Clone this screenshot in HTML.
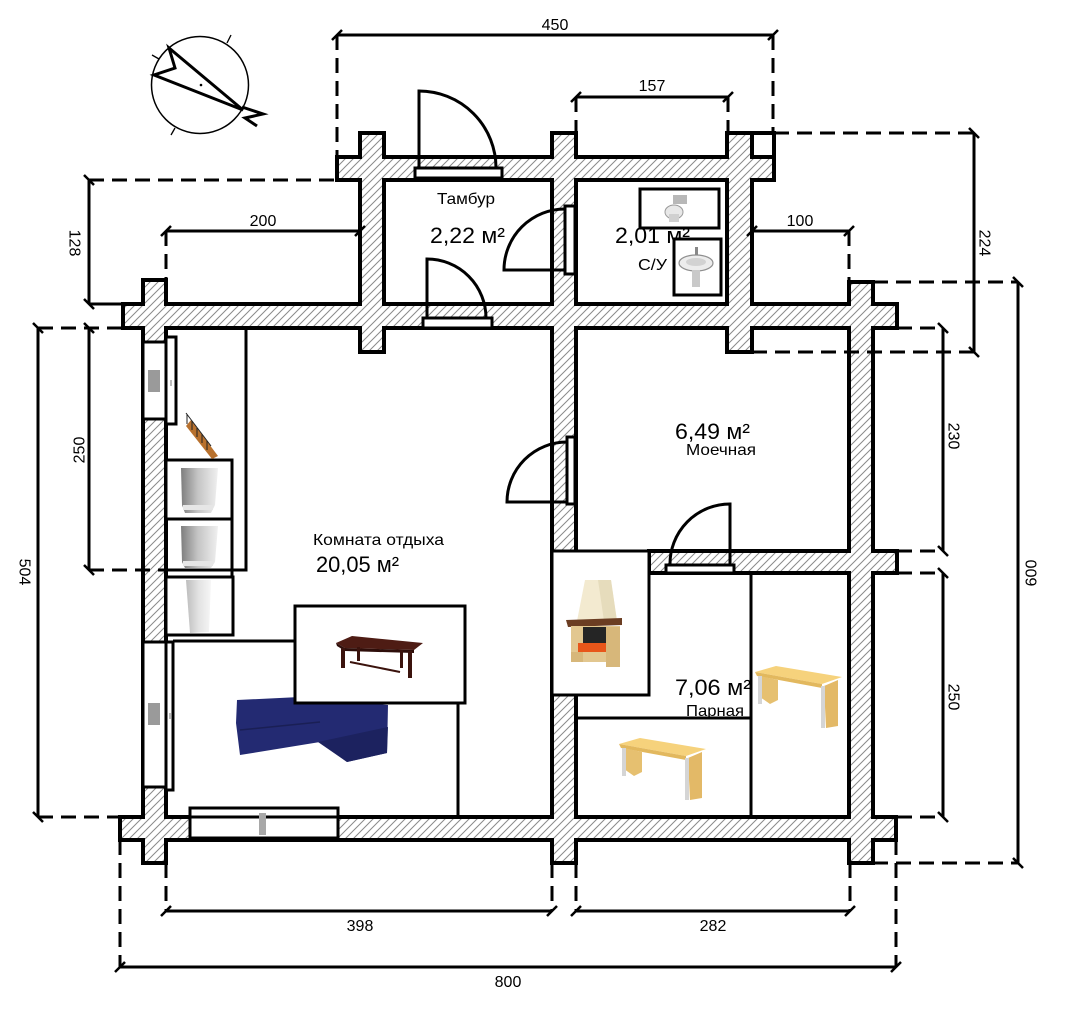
<!DOCTYPE html>
<html><head><meta charset="utf-8"><style>html,body{margin:0;padding:0;background:#fff;}svg{display:block}</style></head>
<body>
<svg xmlns="http://www.w3.org/2000/svg" width="1071" height="1013" viewBox="0 0 1071 1013" font-family="'Liberation Sans', Arial, 'Noto Sans CJK SC', sans-serif">
<defs>
<pattern id="h" patternUnits="userSpaceOnUse" width="8" height="8">
<rect width="8" height="8" fill="#fff"/>
<path d="M-2,2 L2,-2 M0,8 L8,0 M6,10 L10,6" stroke="#8a8a8a" stroke-width="1"/>
</pattern>
<linearGradient id="ap" x1="0" y1="0" x2="1" y2="0"><stop offset="0" stop-color="#7d7d7d"/><stop offset="0.45" stop-color="#c4c4c4"/><stop offset="1" stop-color="#f0f0f0"/></linearGradient>
<linearGradient id="ap2" x1="0" y1="0" x2="1" y2="0"><stop offset="0" stop-color="#bdbdbd"/><stop offset="0.5" stop-color="#e2e2e2"/><stop offset="1" stop-color="#f6f6f6"/></linearGradient>
</defs>
<rect width="1071" height="1013" fill="#fff"/>

<!-- walls: stroke layer -->
<g fill="none" stroke="#000" stroke-width="4">
<rect x="337" y="157" width="437" height="23"/>
<rect x="360" y="133" width="24" height="219"/>
<rect x="552" y="133" width="24" height="730"/>
<rect x="727" y="133" width="25" height="219"/>
<rect x="123" y="304" width="774" height="24"/>
<rect x="143" y="280" width="23" height="583"/>
<rect x="849" y="282" width="24" height="581"/>
<rect x="649" y="551" width="248" height="22"/>
<rect x="120" y="817" width="776" height="23"/>
</g>
<!-- walls: hatch fill layer -->
<g fill="url(#h)">
<rect x="339" y="159" width="433" height="19"/>
<rect x="362" y="135" width="20" height="215"/>
<rect x="554" y="135" width="20" height="726"/>
<rect x="729" y="135" width="21" height="215"/>
<rect x="125" y="306" width="770" height="20"/>
<rect x="145" y="282" width="19" height="579"/>
<rect x="851" y="284" width="20" height="577"/>
<rect x="651" y="553" width="244" height="18"/>
<rect x="122" y="819" width="772" height="19"/>
</g>
<!-- small box top right -->
<g stroke="#000" stroke-width="4" fill="none">
<polyline points="750,133 774,133 774,159"/>
</g>

<!-- windows & door frames -->
<g fill="#fff" stroke="#000" stroke-width="3">
<rect x="143" y="342" width="23" height="77"/>
<rect x="166" y="337" width="10" height="87"/>
<rect x="143" y="642" width="23" height="145"/>
<rect x="166" y="642" width="7" height="148"/>
<rect x="190" y="808" width="148" height="30"/>
<rect x="415" y="168" width="87" height="10"/>
<rect x="423" y="318" width="69" height="10"/>
<rect x="565" y="206" width="10" height="68"/>
<rect x="567" y="437" width="8" height="67"/>
<rect x="666" y="565" width="68" height="8"/>
</g>
<line x1="190" y1="817" x2="338" y2="817" stroke="#000" stroke-width="3"/>
<rect x="148" y="370" width="12" height="22" fill="#9a9a9a"/>
<rect x="148" y="703" width="12" height="22" fill="#9a9a9a"/>
<rect x="259" y="813" width="7" height="22" fill="#a8a8a8"/>
<rect x="170" y="380" width="2" height="6" fill="#bbb"/>
<rect x="169" y="713" width="2" height="6" fill="#bbb"/>

<!-- doors -->
<g fill="none" stroke="#000" stroke-width="3">
<path d="M419,168 L419,91 A77,77 0 0 1 496,168"/>
<path d="M427,318 L427,259 A59,59 0 0 1 486,318"/>
<path d="M565,270 L504,270 A61,61 0 0 1 565,209"/>
<path d="M567,502 L507,502 A60,60 0 0 1 567,442"/>
<path d="M730,565 L730,504 A60,60 0 0 0 670,565"/>
</g>

<!-- room texts -->
<g fill="#000">
<text x="437" y="204" font-size="16" textLength="58" lengthAdjust="spacingAndGlyphs">Тамбур</text>
<text x="430" y="243" font-size="22" textLength="75" lengthAdjust="spacingAndGlyphs">2,22 м²</text>
<text x="615" y="243" font-size="22" textLength="75" lengthAdjust="spacingAndGlyphs">2,01 м²</text>
<text x="638" y="270" font-size="16" textLength="29" lengthAdjust="spacingAndGlyphs">С/У</text>
<text x="675" y="439" font-size="22" textLength="75" lengthAdjust="spacingAndGlyphs">6,49 м²</text>
<text x="686" y="455" font-size="16" textLength="70" lengthAdjust="spacingAndGlyphs">Моечная</text>
<text x="313" y="545" font-size="16" textLength="131" lengthAdjust="spacingAndGlyphs">Комната отдыха</text>
<text x="316" y="572" font-size="22" textLength="83" lengthAdjust="spacingAndGlyphs">20,05 м²</text>
<text x="675" y="695" font-size="22" textLength="76" lengthAdjust="spacingAndGlyphs">7,06 м²</text>
<text x="686" y="716" font-size="16" textLength="58" lengthAdjust="spacingAndGlyphs">Парная</text>
</g>

<!-- SU fixtures -->
<g stroke="#000" stroke-width="3" fill="#fff">
<rect x="640" y="189" width="79" height="39"/>
<rect x="674" y="239" width="47" height="56"/>
</g>
<!-- toilet -->
<rect x="673" y="195" width="14" height="9" fill="#b8b8b8"/>
<ellipse cx="674" cy="212" rx="9" ry="7" fill="#e8e8e8" stroke="#9a9a9a" stroke-width="1"/>
<rect x="669" y="214" width="10" height="8" fill="#d0d0d0"/>
<!-- sink -->
<ellipse cx="696" cy="263" rx="17" ry="8" fill="#ececec" stroke="#8f8f8f" stroke-width="1.2"/>
<ellipse cx="696" cy="262" rx="10" ry="4" fill="#d2d2d2"/>
<rect x="692" y="270" width="8" height="17" fill="#c9c9c9"/>
<rect x="695" y="247" width="3" height="8" fill="#888"/>

<!-- wardrobe / left furniture -->
<g stroke="#000" stroke-width="3" fill="none">
<rect x="166" y="328" width="80" height="242"/>
<rect x="166" y="460" width="66" height="59" fill="#fff"/>
<polyline points="166,519 232,519 232,577"/>
<rect x="166" y="577" width="67" height="58" fill="#fff"/>
<line x1="173" y1="641" x2="295" y2="641"/>
<line x1="458" y1="703" x2="458" y2="817"/>
</g>
<!-- appliances -->
<path d="M181,468 L218,468 L215,505 L211,513 L185,513 L182,505 Z" fill="url(#ap)"/>
<rect x="183" y="505" width="30" height="5" fill="#e6e6e6"/>
<path d="M181,526 L218,526 L215,562 L211,568 L185,568 L182,562 Z" fill="url(#ap)"/>
<rect x="183" y="561" width="30" height="5" fill="#e6e6e6"/>
<path d="M186,580 L211,580 L209,632 L190,633 Z" fill="url(#ap2)"/>
<!-- stairs -->
<polygon points="186,426 191,420 218,456 212,459" fill="#b8712e"/>
<g stroke="#222" stroke-width="1">
<line x1="186" y1="413" x2="211" y2="446"/>
<line x1="187" y1="414" x2="187" y2="424"/>
<line x1="192" y1="421" x2="192" y2="430"/>
<line x1="197" y1="428" x2="197" y2="437"/>
<line x1="202" y1="434" x2="202" y2="443"/>
<line x1="207" y1="441" x2="207" y2="450"/>
</g>

<!-- sofa -->
<polygon points="237,700 300,697 388,705 387,753 347,762 320,742 240,755 236,723" fill="#232a72"/>
<polygon points="318,742 388,727 387,753 347,762" fill="#1c225f"/>
<line x1="240" y1="730" x2="320" y2="722" stroke="#1a1f55" stroke-width="1.5"/>
<!-- table -->
<rect x="295" y="606" width="170" height="97" fill="#fff" stroke="#000" stroke-width="3"/>
<polygon points="336,643 352,636 423,643 414,650 345,648" fill="#4e1c14"/>
<polygon points="336,643 345,648 414,650 414,653 345,651 337,646" fill="#2e0e0a"/>
<g fill="#3b130d">
<rect x="341" y="648" width="4" height="20"/>
<rect x="408" y="651" width="4" height="27"/>
<rect x="357" y="647" width="3" height="14"/>
<rect x="400" y="650" width="3" height="18"/>
</g>
<line x1="350" y1="662" x2="400" y2="672" stroke="#3b130d" stroke-width="2"/>

<!-- fireplace -->
<rect x="552" y="551" width="97" height="144" fill="#fff" stroke="#000" stroke-width="3"/>
<polygon points="585,580 611,580 617,621 577,621" fill="#f3ead0"/>
<polygon points="598,580 611,580 617,621 604,621" fill="#e6dcbc"/>
<polygon points="566,620 622,618 622,625 568,627" fill="#6b3d22"/>
<rect x="571" y="626" width="49" height="36" fill="#e2c790"/>
<rect x="583" y="627" width="25" height="17" fill="#252525"/>
<rect x="578" y="643" width="30" height="9" fill="#e8561a"/>
<rect x="571" y="652" width="12" height="10" fill="#d7b77a"/>
<rect x="606" y="627" width="14" height="40" fill="#d7b77a"/>

<!-- parnaya -->
<g stroke="#000" stroke-width="3">
<line x1="751" y1="573" x2="751" y2="817"/>
<line x1="576" y1="718" x2="751" y2="718"/>
</g>
<!-- benches -->
<g id="b1">
<polygon points="755,672 776,666 842,677 822,684" fill="#f6d27c"/>
<polygon points="755,672 822,684 822,688 757,676" fill="#e2b85e"/>
<polygon points="760,676 778,680 778,700 770,704 760,697" fill="#e6c070"/>
<rect x="758" y="676" width="4" height="28" fill="#d5d5d5"/>
<polygon points="824,686 838,680 838,726 826,728" fill="#e3b967"/>
<rect x="821" y="686" width="4" height="42" fill="#d5d5d5"/>
</g>
<g transform="translate(-136,72)">
<polygon points="755,672 776,666 842,677 822,684" fill="#f6d27c"/>
<polygon points="755,672 822,684 822,688 757,676" fill="#e2b85e"/>
<polygon points="760,676 778,680 778,700 770,704 760,697" fill="#e6c070"/>
<rect x="758" y="676" width="4" height="28" fill="#d5d5d5"/>
<polygon points="824,686 838,680 838,726 826,728" fill="#e3b967"/>
<rect x="821" y="686" width="4" height="42" fill="#d5d5d5"/>
</g>

<!-- compass -->
<circle cx="200" cy="85" r="48.5" fill="none" stroke="#000" stroke-width="1.5"/>
<g stroke="#000" stroke-width="1.3">
<line x1="227" y1="43" x2="231" y2="35"/>
<line x1="152" y1="55" x2="159" y2="59"/>
<line x1="171" y1="135" x2="175" y2="128"/>
</g>
<polygon points="169,48 175,68 154,75 243,110" fill="none" stroke="#000" stroke-width="3"/>
<circle cx="201" cy="85" r="1.3" fill="#000"/>
<polyline points="242,107 263,114 245,118 257,126" fill="none" stroke="#000" stroke-width="3"/>

<!-- extension lines dashed -->
<g stroke="#000" stroke-width="3" stroke-dasharray="15 8" fill="none">
<line x1="337" y1="35" x2="337" y2="157"/>
<line x1="773" y1="35" x2="773" y2="133"/>
<line x1="576" y1="97" x2="576" y2="133"/>
<line x1="728" y1="97" x2="728" y2="133"/>
<line x1="166" y1="231" x2="166" y2="280"/>
<line x1="849" y1="231" x2="849" y2="282"/>
<line x1="120" y1="840" x2="120" y2="967"/>
<line x1="896" y1="840" x2="896" y2="967"/>
<line x1="166" y1="863" x2="166" y2="911"/>
<line x1="552" y1="863" x2="552" y2="911"/>
<line x1="576" y1="840" x2="576" y2="911"/>
<line x1="850" y1="863" x2="850" y2="911"/>
<line x1="89" y1="180" x2="337" y2="180"/>
<line x1="38" y1="328" x2="123" y2="328"/>
<line x1="89" y1="570" x2="166" y2="570"/>
<line x1="38" y1="817" x2="120" y2="817"/>
<line x1="774" y1="133" x2="974" y2="133"/>
<line x1="752" y1="352" x2="974" y2="352"/>
<line x1="873" y1="282" x2="1018" y2="282"/>
<line x1="897" y1="328" x2="943" y2="328"/>
<line x1="897" y1="551" x2="943" y2="551"/>
<line x1="897" y1="573" x2="943" y2="573"/>
<line x1="897" y1="817" x2="943" y2="817"/>
<line x1="873" y1="863" x2="1018" y2="863"/>
</g>
<line x1="89" y1="304" x2="123" y2="304" stroke="#000" stroke-width="3"/>

<!-- dimension lines -->
<g stroke="#000" stroke-width="3">
<line x1="337" y1="35" x2="773" y2="35"/>
<line x1="576" y1="97" x2="728" y2="97"/>
<line x1="166" y1="231" x2="360" y2="231"/>
<line x1="752" y1="231" x2="849" y2="231"/>
<line x1="166" y1="911" x2="552" y2="911"/>
<line x1="576" y1="911" x2="850" y2="911"/>
<line x1="120" y1="967" x2="896" y2="967"/>
<line x1="89" y1="180" x2="89" y2="304"/>
<line x1="89" y1="328" x2="89" y2="570"/>
<line x1="38" y1="328" x2="38" y2="817"/>
<line x1="974" y1="133" x2="974" y2="352"/>
<line x1="943" y1="328" x2="943" y2="551"/>
<line x1="943" y1="573" x2="943" y2="817"/>
<line x1="1018" y1="282" x2="1018" y2="863"/>
</g>
<!-- ticks -->
<g stroke="#000" stroke-width="2.5">
<path d="M332,40 L342,30 M768,40 L778,30 M571,102 L581,92 M723,102 L733,92 M161,236 L171,226 M355,236 L365,226 M747,236 L757,226 M844,236 L854,226 M161,916 L171,906 M547,916 L557,906 M571,916 L581,906 M845,916 L855,906 M115,972 L125,962 M891,972 L901,962"/>
<path d="M84,175 L94,185 M84,299 L94,309 M84,323 L94,333 M84,565 L94,575 M33,323 L43,333 M33,812 L43,822 M969,128 L979,138 M969,347 L979,357 M938,323 L948,333 M938,546 L948,556 M938,568 L948,578 M938,812 L948,822 M1013,277 L1023,287 M1013,858 L1023,868"/>
</g>

<!-- dimension texts -->
<g fill="#000" font-size="16" text-anchor="middle">
<text x="555" y="30">450</text>
<text x="652" y="91">157</text>
<text x="263" y="226">200</text>
<text x="800" y="226">100</text>
<text x="360" y="931">398</text>
<text x="713" y="931">282</text>
<text x="508" y="987">800</text>
<text transform="translate(75,243) rotate(90)" dy="0.35em">128</text>
<text transform="translate(985,243) rotate(90)" dy="0.35em">224</text>
<text transform="translate(954,436) rotate(90)" dy="0.35em">230</text>
<text transform="translate(954,697) rotate(90)" dy="0.35em">250</text>
<text transform="translate(25,572) rotate(90)" dy="0.35em">504</text>
<text transform="translate(79,450) rotate(-90)" dy="0.35em">250</text>
<text transform="translate(1031,573) rotate(-90)" dy="0.35em">600</text>
</g>
</svg>
</body></html>
